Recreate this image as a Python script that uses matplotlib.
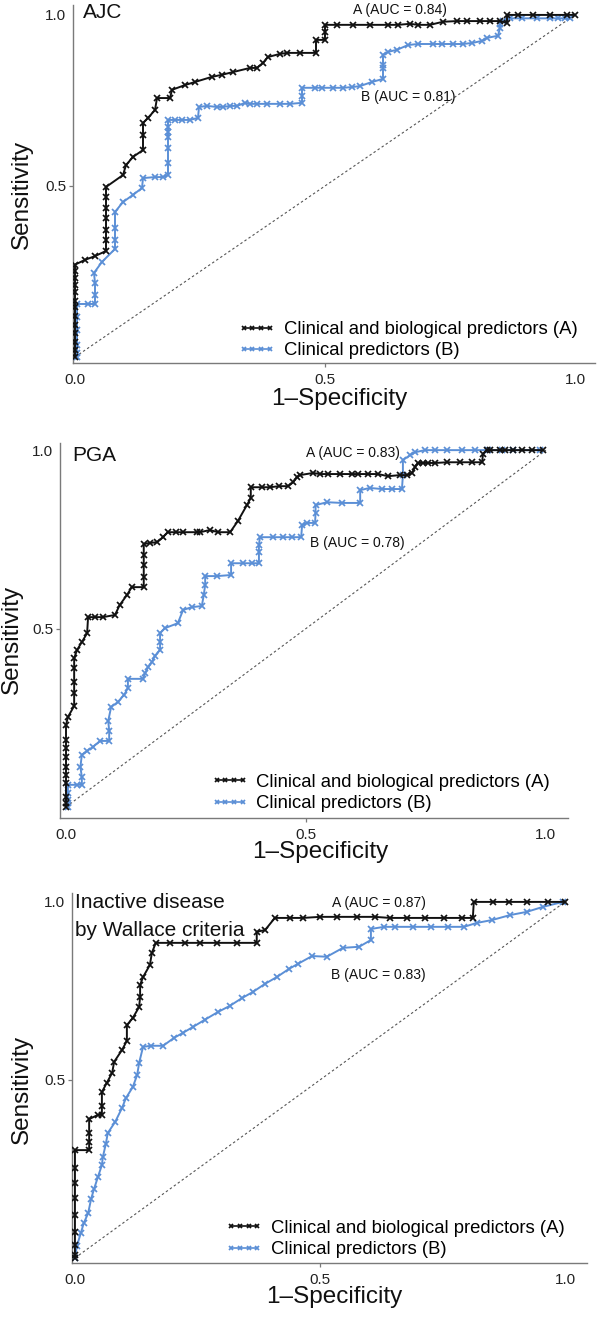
import matplotlib
matplotlib.use("Agg")
import matplotlib.pyplot as plt
from matplotlib.lines import Line2D

plt.rcParams['font.family'] = ['Liberation Sans', 'DejaVu Sans']

# ---------------- data ----------------
panel_titles = ["AJC", "PGA", "Inactive disease\nby Wallace criteria"]
legend_labels = ["Clinical and biological predictors (A)", "Clinical predictors (B)"]
auc_a_labels = ["A (AUC = 0.84)", "A (AUC = 0.83)", "A (AUC = 0.87)"]
auc_b_labels = ["B (AUC = 0.81)", "B (AUC = 0.78)", "B (AUC = 0.83)"]
tick_values = [0.0, 0.5, 1.0]
tick_labels = ["0.0", "0.5", "1.0"]

# Panel 1: AJC
ajc_fpr_a = [0, 0, 0, 0, 0, 0, 0, 0, 0, 0, 0, 0, 0,
             0.02, 0.04, 0.062, 0.062, 0.062, 0.062, 0.062, 0.062, 0.062, 0.096, 0.102, 0.116, 0.136,
             0.136, 0.136, 0.146, 0.16, 0.164, 0.19, 0.194, 0.22, 0.24, 0.274, 0.294, 0.316, 0.35,
             0.364, 0.376, 0.386, 0.41, 0.424, 0.45, 0.482, 0.482, 0.5, 0.5, 0.5, 0.524, 0.556, 0.59,
             0.626, 0.646, 0.67, 0.686, 0.71, 0.736, 0.764, 0.784, 0.81, 0.83, 0.85, 0.864, 0.864,
             0.886, 0.916, 0.95, 0.984, 1.0]
ajc_tpr_a = [0, 0.02, 0.045, 0.07, 0.095, 0.12, 0.145, 0.165, 0.19, 0.21, 0.23, 0.25, 0.27,
             0.284, 0.295, 0.31, 0.342, 0.371, 0.406, 0.436, 0.468, 0.497, 0.532, 0.561, 0.585, 0.605,
             0.649, 0.684, 0.699, 0.722, 0.757, 0.757, 0.781, 0.795, 0.804, 0.819, 0.825, 0.833, 0.845,
             0.845, 0.86, 0.877, 0.886, 0.889, 0.889, 0.889, 0.927, 0.927, 0.95, 0.971, 0.971, 0.971, 0.971,
             0.971, 0.971, 0.974, 0.971, 0.971, 0.98, 0.982, 0.982, 0.982, 0.982, 0.982, 0.977, 1.0,
             1.0, 1.0, 1.0, 1.0, 1.0]
ajc_fpr_b = [0.004, 0.004, 0.004, 0.004, 0.004, 0.004, 0.026, 0.04, 0.04, 0.04, 0.038, 0.054, 0.08,
             0.08, 0.08, 0.08, 0.096, 0.116, 0.134, 0.136, 0.16, 0.176, 0.186, 0.186, 0.186, 0.186,
             0.186, 0.186, 0.186, 0.2, 0.214, 0.23, 0.246, 0.248, 0.264, 0.284, 0.296, 0.31, 0.324,
             0.34, 0.35, 0.364, 0.384, 0.41, 0.43, 0.454, 0.454, 0.454, 0.48, 0.494, 0.516, 0.536,
             0.554, 0.57, 0.594, 0.616, 0.616, 0.616, 0.616, 0.626, 0.644, 0.666, 0.686, 0.716, 0.734,
             0.756, 0.776, 0.794, 0.814, 0.824, 0.846, 0.85, 0.85, 0.856, 0.87, 0.894, 0.924, 0.95,
             0.966, 0.98, 0.99]
ajc_tpr_b = [0, 0.012, 0.035, 0.079, 0.118, 0.155, 0.155, 0.155, 0.181, 0.216, 0.246, 0.278, 0.316,
             0.342, 0.377, 0.424, 0.453, 0.474, 0.494, 0.523, 0.526, 0.526, 0.532, 0.567, 0.611, 0.643,
             0.658, 0.673, 0.693, 0.693, 0.693, 0.693, 0.699, 0.731, 0.734, 0.731, 0.731, 0.734, 0.734,
             0.743, 0.74, 0.74, 0.74, 0.74, 0.74, 0.743, 0.763, 0.787, 0.787, 0.787, 0.787, 0.787,
             0.789, 0.792, 0.804, 0.813, 0.845, 0.854, 0.883, 0.892, 0.898, 0.912, 0.915, 0.915, 0.915,
             0.915, 0.915, 0.918, 0.924, 0.933, 0.939, 0.962, 0.974, 0.982, 0.99, 0.99, 0.99, 0.99,
             0.99, 0.99, 0.99]

# Panel 2: PGA
pga_fpr_a = [0, 0, 0, 0, 0, 0, 0, 0, 0, 0,
             0.004, 0.017, 0.017, 0.017, 0.017, 0.017, 0.023, 0.033, 0.044, 0.046, 0.06, 0.077, 0.102,
             0.112, 0.127, 0.137, 0.162, 0.162, 0.162, 0.162, 0.162, 0.175, 0.19, 0.202, 0.212, 0.23,
             0.244, 0.273, 0.279, 0.3, 0.317, 0.342, 0.358, 0.377, 0.385, 0.385, 0.408, 0.425, 0.444,
             0.463, 0.473, 0.481, 0.487, 0.515, 0.529, 0.546, 0.571, 0.596, 0.608, 0.629, 0.65, 0.671,
             0.696, 0.71, 0.721, 0.727, 0.733, 0.744, 0.754, 0.769, 0.794, 0.821, 0.846, 0.867, 0.869,
             0.877, 0.883, 0.904, 0.915, 0.931, 0.95, 0.971, 0.994]
pga_tpr_a = [0, 0.011, 0.028, 0.067, 0.09, 0.112, 0.14, 0.165, 0.188, 0.23,
             0.252, 0.283, 0.319, 0.35, 0.389, 0.417, 0.44, 0.462, 0.487, 0.532, 0.532, 0.532, 0.538,
             0.566, 0.594, 0.616, 0.616, 0.644, 0.678, 0.706, 0.737, 0.74, 0.742, 0.756, 0.77, 0.77,
             0.77, 0.77, 0.77, 0.776, 0.77, 0.77, 0.801, 0.846, 0.866, 0.896, 0.896, 0.896, 0.899,
             0.899, 0.91, 0.924, 0.93, 0.936, 0.933, 0.933, 0.933, 0.933, 0.933, 0.933, 0.933, 0.927,
             0.93, 0.93, 0.936, 0.952, 0.964, 0.964, 0.964, 0.964, 0.966, 0.966, 0.966, 0.966, 0.99,
             1.0, 1.0, 1.0, 1.0, 1.0, 1.0, 1.0, 1.0]
pga_fpr_b = [0.004, 0.004, 0.004, 0.004, 0.004, 0.023, 0.033, 0.033, 0.03, 0.033, 0.044, 0.056, 0.071,
             0.09, 0.09, 0.088, 0.094, 0.108, 0.121, 0.129, 0.129, 0.16, 0.165, 0.171, 0.179, 0.185,
             0.196, 0.196, 0.196, 0.206, 0.233, 0.244, 0.262, 0.283, 0.287, 0.29, 0.29, 0.315, 0.344,
             0.344, 0.369, 0.388, 0.402, 0.402, 0.402, 0.404, 0.431, 0.452, 0.471, 0.49, 0.492, 0.502,
             0.519, 0.52, 0.52, 0.544, 0.575, 0.613, 0.613, 0.633, 0.658, 0.679, 0.7, 0.702, 0.702,
             0.717, 0.727, 0.748, 0.769, 0.794, 0.825, 0.852, 0.879, 0.908, 0.931, 0.988]
pga_tpr_b = [0, 0.01, 0.02, 0.039, 0.062, 0.062, 0.062, 0.084, 0.112, 0.146, 0.157, 0.168, 0.185,
             0.185, 0.213, 0.241, 0.28, 0.294, 0.314, 0.333, 0.359, 0.359, 0.375, 0.392, 0.406, 0.423,
             0.44, 0.463, 0.487, 0.501, 0.515, 0.552, 0.56, 0.563, 0.594, 0.622, 0.647, 0.647, 0.65,
             0.683, 0.683, 0.683, 0.683, 0.714, 0.734, 0.756, 0.756, 0.756, 0.756, 0.756, 0.79, 0.796,
             0.796, 0.824, 0.846, 0.854, 0.852, 0.852, 0.888, 0.894, 0.891, 0.891, 0.891, 0.93, 0.972,
             0.986, 0.994, 1.0, 1.0, 1.0, 1.0, 1.0, 1.0, 1.0, 1.0, 1.0]

# Panel 3: Inactive disease by Wallace criteria
wal_fpr_a = [0, 0, 0, 0, 0, 0, 0, 0, 0,
             0.029, 0.029, 0.029, 0.029, 0.047, 0.055, 0.055, 0.055, 0.065, 0.076, 0.08, 0.096, 0.106,
             0.106, 0.118, 0.131, 0.133, 0.133, 0.139, 0.153, 0.157, 0.165, 0.194, 0.224, 0.255, 0.29,
             0.331, 0.371, 0.371, 0.388, 0.408, 0.439, 0.465, 0.5, 0.535, 0.576, 0.612, 0.643, 0.678,
             0.714, 0.753, 0.79, 0.812, 0.814, 0.853, 0.886, 0.922, 0.965, 1.0]
wal_tpr_a = [0, 0.008, 0.037, 0.073, 0.121, 0.169, 0.211, 0.253, 0.303,
             0.303, 0.326, 0.351, 0.39, 0.402, 0.402, 0.427, 0.466, 0.492, 0.52, 0.551, 0.584, 0.61,
             0.654, 0.674, 0.705, 0.733, 0.767, 0.789, 0.823, 0.857, 0.885, 0.885, 0.885, 0.885, 0.885,
             0.885, 0.885, 0.916, 0.921, 0.955, 0.955, 0.955, 0.958, 0.958, 0.958, 0.958, 0.955, 0.955,
             0.955, 0.955, 0.955, 0.955, 1.0, 1.0, 1.0, 1.0, 1.0, 1.0]
wal_fpr_b = [0, 0.004, 0.012, 0.018, 0.027, 0.033, 0.039, 0.047, 0.055, 0.057, 0.063, 0.067, 0.082,
             0.096, 0.104, 0.118, 0.127, 0.131, 0.139, 0.155, 0.18, 0.202, 0.22, 0.241, 0.265, 0.292,
             0.316, 0.341, 0.363, 0.388, 0.412, 0.437, 0.455, 0.484, 0.514, 0.547, 0.58, 0.604, 0.604,
             0.631, 0.653, 0.69, 0.727, 0.761, 0.794, 0.82, 0.851, 0.888, 0.922, 0.955, 0.996]
wal_tpr_b = [0, 0.034, 0.07, 0.098, 0.126, 0.166, 0.194, 0.228, 0.261, 0.284, 0.32, 0.351, 0.382,
             0.421, 0.449, 0.48, 0.514, 0.548, 0.593, 0.596, 0.596, 0.618, 0.632, 0.649, 0.669, 0.691,
             0.708, 0.73, 0.747, 0.77, 0.789, 0.812, 0.826, 0.848, 0.846, 0.871, 0.874, 0.893, 0.924,
             0.93, 0.93, 0.93, 0.93, 0.93, 0.93, 0.941, 0.949, 0.963, 0.972, 0.986, 1.0]

# ---------------- layout / style ----------------
W, H = 600, 1317
fig = plt.figure(figsize=(W / 100, H / 100), dpi=100)

BLACK = '#111111'
BLUE = '#5b8fd6'
SPINE = '#7a7a7a'

panels = [
    dict(box=(73, 5, 595, 363), xlim=(-0.004, 1.04), ylim=(-0.0175, 1.029),
         fa=ajc_fpr_a, ta=ajc_tpr_a, fb=ajc_fpr_b, tb=ajc_tpr_b,
         title_xy=[(0.016, 1.006)], a_xy=(0.65, 1.015), b_xy=(0.666, 0.76),
         leg_anchor=(0.966, 0.011), ylab=(-0.077, 0.472), xlab_y=-0.07, xlab_x=0.511),
    dict(box=(60, 443, 568, 818), xlim=(-0.0125, 1.046), ylim=(-0.031, 1.02),
         fa=pga_fpr_a, ta=pga_tpr_a, fb=pga_fpr_b, tb=pga_tpr_b,
         title_xy=[(0.0125, 0.986)], a_xy=(0.598, 0.992), b_xy=(0.606, 0.74),
         leg_anchor=(0.965, 0.016), ylab=(-0.073, 0.475), xlab_y=-0.062, xlab_x=0.512),
    dict(box=(72, 893, 587, 1263), xlim=(-0.006, 1.045), ylim=(-0.014, 1.025),
         fa=wal_fpr_a, ta=wal_tpr_a, fb=wal_fpr_b, tb=wal_tpr_b,
         title_xy=[(0.0, 0.997), (0.0, 0.921)], a_xy=(0.62, 0.997), b_xy=(0.62, 0.795),
         leg_anchor=(0.957, 0.0135), ylab=(-0.076, 0.47), xlab_y=-0.062, xlab_x=0.509),
]

for i, p in enumerate(panels):
    l, t, r, b = p['box']
    ax = fig.add_axes([l / W, 1 - b / H, (r - l) / W, (b - t) / H])
    ax.set_xlim(*p['xlim'])
    ax.set_ylim(*p['ylim'])
    for s in ['top', 'right']:
        ax.spines[s].set_visible(False)
    for s in ['left', 'bottom']:
        ax.spines[s].set_color(SPINE)
        ax.spines[s].set_linewidth(1.0)

    ax.plot([0, 1], [0, 1], ls=(0, (2.2, 2.2)), color='#555555', lw=0.8, zorder=1)
    lb, = ax.plot(p['fb'], p['tb'], color=BLUE, lw=1.4, marker='x', ms=4.5, mew=1.25,
                  zorder=2, label=legend_labels[1])
    la, = ax.plot(p['fa'], p['ta'], color=BLACK, lw=1.4, marker='x', ms=4.5, mew=1.25,
                  zorder=3, label=legend_labels[0])

    ax.set_xticks(tick_values)
    ax.set_xticklabels(tick_labels)
    ax.set_yticks(tick_values[1:])
    ax.set_yticklabels(tick_labels[1:])
    ax.tick_params(axis='both', labelsize=11, length=3, width=0.9, color=SPINE,
                   labelcolor='#222222')
    ax.tick_params(axis='x', pad=4)
    ax.tick_params(axis='y', pad=2)
    xt = ax.xaxis.get_major_ticks()
    xt[0].tick1line.set_visible(False)
    xt[2].tick1line.set_visible(False)
    yt = ax.yaxis.get_major_ticks()
    yt[1].tick1line.set_visible(False)

    if len(p['title_xy']) == 1:
        ax.text(p['title_xy'][0][0], p['title_xy'][0][1], panel_titles[i], fontsize=15,
                ha='left', va='center', color='#111111')
    else:
        lines = panel_titles[i].split('\n')
        for (tx, ty), s in zip(p['title_xy'], lines):
            ax.text(tx, ty, s, fontsize=15, ha='left', va='center', color='#111111')

    ax.text(p['a_xy'][0], p['a_xy'][1], auc_a_labels[i], fontsize=10, ha='center',
            va='center', color='#111111')
    ax.text(p['b_xy'][0], p['b_xy'][1], auc_b_labels[i], fontsize=10, ha='center',
            va='center', color='#111111')

    ax.set_ylabel('Sensitivity', fontsize=17.5, color='#111111')
    ax.yaxis.set_label_coords(*p['ylab'])
    ax.set_xlabel('1\u2013Specificity', fontsize=17.5, color='#111111')
    ax.xaxis.set_label_coords(p['xlab_x'], p['xlab_y'])

    leg = ax.legend(handles=[la, lb], loc='lower right', bbox_to_anchor=p['leg_anchor'],
                    frameon=False, fontsize=13.3, numpoints=4, handlelength=2.0,
                    handletextpad=0.45, borderpad=0, borderaxespad=0, labelspacing=0.22)
    for h in leg.legend_handles:
        h.set_markersize(3.2)
        h.set_linewidth(1.2)

fig.savefig('out.png', dpi=100)
